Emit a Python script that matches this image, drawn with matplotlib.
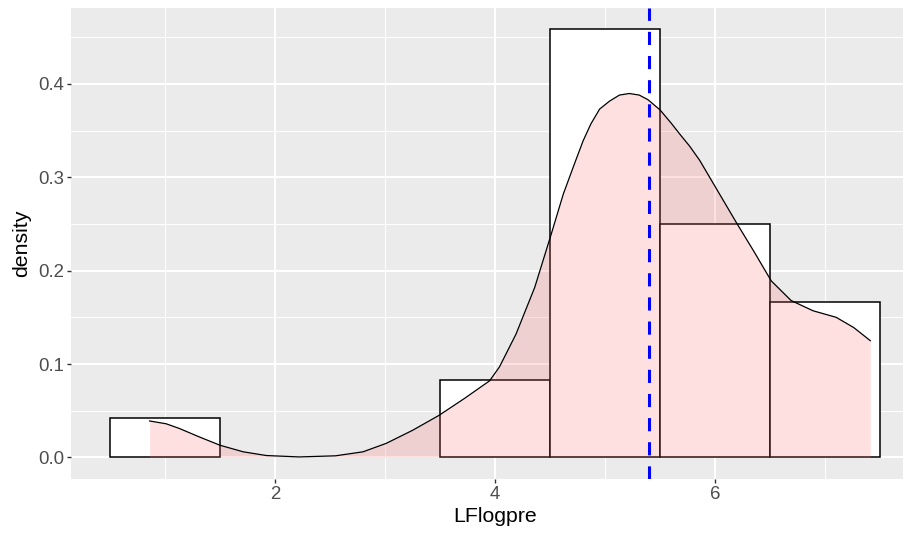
import matplotlib
matplotlib.use("Agg")
import matplotlib.pyplot as plt
from matplotlib.ticker import MultipleLocator

plt.rcParams["font.family"] = ["Liberation Sans", "DejaVu Sans"]

# histogram (binwidth 1), density values
bin_centers = [1, 2, 3, 4, 5, 6, 7]
bin_density = [1/24, 0, 0, 2/24, 11/24, 6/24, 4/24]

# kernel density curve
dens_x = [0.86, 1.01, 1.13, 1.31, 1.50, 1.71, 1.92, 2.22, 2.55, 2.80, 3.01, 3.25, 3.49,
          3.72, 3.95, 4.04, 4.19, 4.36, 4.51, 4.62, 4.72, 4.80, 4.87, 4.95, 5.04, 5.13,
          5.22, 5.31, 5.39, 5.50, 5.60, 5.68, 5.77, 5.86, 6.04, 6.20, 6.35, 6.51, 6.69,
          6.89, 7.10, 7.26, 7.41]
dens_y = [0.039, 0.036, 0.031, 0.022, 0.013, 0.006, 0.002, 0.0005, 0.0017, 0.006, 0.015, 0.029, 0.045,
          0.063, 0.082, 0.097, 0.132, 0.182, 0.239, 0.282, 0.314, 0.339, 0.357, 0.373, 0.3815, 0.388,
          0.3897, 0.388, 0.383, 0.372, 0.358, 0.346, 0.333, 0.318, 0.282, 0.250, 0.221, 0.189, 0.168,
          0.157, 0.150, 0.139, 0.125]

mean_line = 5.40

fig = plt.figure(figsize=(9.04, 5.37), dpi=100)
ax = fig.add_axes([71.5/904, 58.2/537, 847.2/904, 470.8/537])
ax.set_facecolor("#EBEBEB")

hx = [c for c, h in zip(bin_centers, bin_density) if h > 0]
hy = [h for h in bin_density if h > 0]
ax.bar(hx, hy, width=1.0, color="white", edgecolor="black", linewidth=1.1, zorder=2)

ax.fill_between(dens_x, 0, dens_y, color="#FF6666", alpha=0.2, linewidth=0, zorder=3)
ax.plot(dens_x, dens_y, color="black", lw=0.9, zorder=4)

ax.axvline(mean_line, color="blue", lw=2.2, dashes=(4.3, 3.6), zorder=5)

ax.set_xlim(0.15, 7.85)
ax.set_ylim(-0.02292, 0.48125)
ax.xaxis.set_major_locator(MultipleLocator(2))
ax.xaxis.set_minor_locator(MultipleLocator(1))
ax.yaxis.set_major_locator(MultipleLocator(0.1))
ax.yaxis.set_minor_locator(MultipleLocator(0.05))
ax.set_yticks([0.0, 0.1, 0.2, 0.3, 0.4])
ax.set_yticklabels(["0.0", "0.1", "0.2", "0.3", "0.4"])
ax.grid(which="major", color="white", lw=1.45)
ax.grid(which="minor", color="white", lw=0.7)
ax.set_axisbelow(True)
for s in ax.spines.values():
    s.set_visible(False)
ax.tick_params(which="major", length=2.9, width=1.0, color="#333333",
               labelcolor="#4D4D4D", labelsize=13.4, pad=2.5)
ax.tick_params(which="minor", length=0)

ax.set_xlabel("LFlogpre", fontsize=15.3, labelpad=3)
ax.set_ylabel("density", fontsize=15.3, labelpad=5)

fig.savefig("out.png", dpi=100)
